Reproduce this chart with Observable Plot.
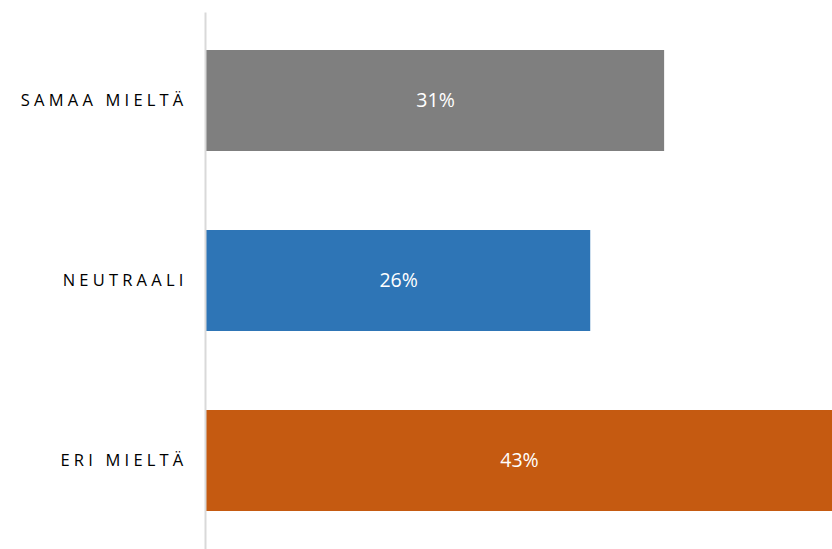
<!DOCTYPE html>
<html>
<head>
<meta charset="utf-8">
<script src="https://cdn.jsdelivr.net/npm/d3@7"></script>
<script src="https://cdn.jsdelivr.net/npm/@observablehq/plot@0.6"></script>
<style>
  html, body { margin: 0; padding: 0; background: #ffffff; }
  #chart svg { display: block; }
</style>
</head>
<body>
<div id="chart"></div>
<script>
const categories = ["SAMAA MIELTÄ", "NEUTRAALI", "ERI MIELTÄ"];
const values = [31, 26, 43];
const colors = ["#7f7f7f", "#2e75b6", "#c55a11"];
const xMax = 42.36;

const data = categories.map((c, i) => ({category: c, value: values[i], color: colors[i]}));

const chart = Plot.plot({
  width: 832,
  height: 549,
  marginLeft: 206,
  marginRight: 0,
  marginTop: 12.5,
  marginBottom: 0,
  style: {fontFamily: "'Open Sans', sans-serif", background: "#ffffff", overflow: "hidden"},
  x: {domain: [0, xMax], axis: null},
  y: {domain: categories, paddingInner: 0.44, paddingOuter: 0.21, label: null},
  marks: [
    Plot.barX(data, {x: "value", y: "category", fill: "color", clip: true}),
    Plot.ruleX([0], {stroke: "#d9d9d9", strokeWidth: 2, dx: -1}),
    Plot.text(data, {
      x: d => Math.min(d.value, xMax) / 2,
      y: "category",
      text: d => d.value + "%",
      fill: "white",
      fontSize: 19.5,
      fontFamily: "'Open Sans', sans-serif"
    }),
    Plot.axisY({
      tickSize: 0,
      tickPadding: 19,
      label: null,
      fontSize: 16.5,
      fill: "#000000",
      fontFamily: "'Open Sans', sans-serif"
    })
  ]
});

d3.select(chart).selectAll("[aria-label='y-axis tick label'] text")
  .style("letter-spacing", "4.2px")
  .style("font-size", "16.5px");

document.getElementById("chart").appendChild(chart);
</script>
</body>
</html>
